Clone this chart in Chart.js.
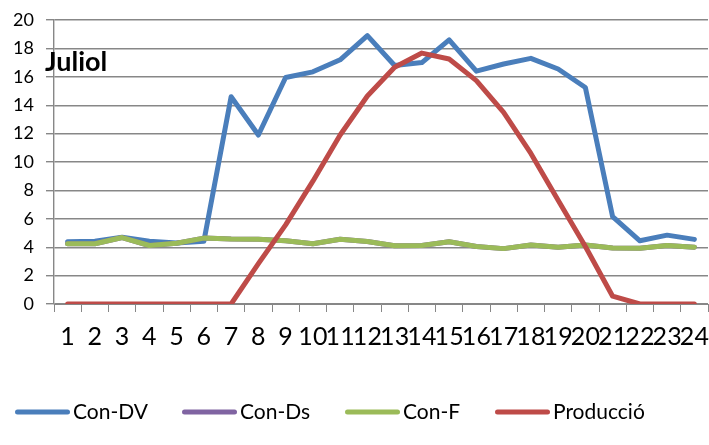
<!DOCTYPE html>
<html>
<head>
<meta charset="utf-8">
<script src="https://cdn.jsdelivr.net/npm/chart.js@4/dist/chart.umd.min.js"></script>
<style>
  html, body { margin: 0; padding: 0; background: #fff; }
  #wrap { position: relative; width: 709px; height: 445px; }
</style>
</head>
<body>
<div id="wrap"><canvas id="c" width="709" height="445"></canvas></div>
<script>
// Hours of the day
const hours = ['1','2','3','4','5','6','7','8','9','10','11','12','13','14','15','16','17','18','19','20','21','22','23','24'];

// Series values per hour
const conDV = [4.38, 4.42, 4.7, 4.42, 4.3, 4.42, 14.6, 11.9, 15.95, 16.35, 17.2, 18.9,
               16.8, 17.0, 18.6, 16.4, 16.9, 17.3, 16.55, 15.25, 6.15, 4.45, 4.85, 4.55];
const conDs = [4.24, 4.24, 4.68, 4.12, 4.28, 4.64, 4.57, 4.56, 4.46, 4.24, 4.56, 4.4,
               4.1, 4.12, 4.38, 4.05, 3.9, 4.15, 4.0, 4.15, 3.94, 3.92, 4.12, 4.0];
const conF  = [4.24, 4.24, 4.68, 4.12, 4.28, 4.64, 4.57, 4.56, 4.46, 4.24, 4.56, 4.4,
               4.1, 4.12, 4.38, 4.05, 3.9, 4.15, 4.0, 4.15, 3.94, 3.92, 4.12, 4.0];
const produccio = [0, 0, 0, 0, 0, 0, 0, 2.85, 5.57, 8.65, 11.9, 14.65,
                   16.67, 17.67, 17.25, 15.73, 13.5, 10.6, 7.3, 4.05, 0.55, 0, 0, 0];

// Y axis ticks
const yTicks = [0, 2, 4, 6, 8, 10, 12, 14, 16, 18, 20];

const seriesNames = ['Con-DV', 'Con-Ds', 'Con-F', 'Producció'];
const seriesColors = ['#4A7EBB', '#8064A2', '#9BBB59', '#BE4B48'];
const chartTitle = 'Juliol';

const FONT = 'Lato, "Open Sans", sans-serif';
const GRID = '#878787';

function line(i, data, order) {
  return {
    label: seriesNames[i],
    data: data,
    borderColor: seriesColors[i],
    backgroundColor: seriesColors[i],
    borderWidth: 5,
    pointRadius: 0,
    pointHoverRadius: 0,
    tension: 0,
    borderJoinStyle: 'round',
    borderCapStyle: 'round',
    fill: false,
    order: order
  };
}

// Legend row along the bottom and the bold chart title
const decorations = {
  id: 'decorations',
  afterDraw(chart) {
    const ctx = chart.ctx;
    ctx.save();
    // title
    ctx.font = 'bold 27px ' + FONT;
    ctx.fillStyle = '#000';
    ctx.textBaseline = 'alphabetic';
    ctx.textAlign = 'left';
    ctx.fillText(chartTitle, 45, 71);
    // legend
    const starts = [15, 182, 345, 495];
    const y = 412;
    ctx.font = '21px ' + FONT;
    ctx.textBaseline = 'middle';
    chart.data.datasets.forEach((ds, i) => {
      const x = starts[i];
      ctx.strokeStyle = ds.borderColor;
      ctx.lineWidth = 5;
      ctx.lineCap = 'round';
      ctx.beginPath();
      ctx.moveTo(x + 2.5, y);
      ctx.lineTo(x + 52.5, y);
      ctx.stroke();
      ctx.fillStyle = '#000';
      ctx.fillText(ds.label, x + 58, y);
    });
    ctx.restore();
  }
};

new Chart(document.getElementById('c'), {
  type: 'line',
  data: {
    labels: hours,
    datasets: [
      line(0, conDV, 4),
      line(1, conDs, 3),
      line(2, conF, 2),
      line(3, produccio, 1)
    ]
  },
  options: {
    responsive: false,
    animation: false,
    layout: { padding: { top: 20, right: 1, bottom: 91, left: 0 } },
    plugins: {
      legend: { display: false },
      tooltip: { enabled: false },
      title: { display: false }
    },
    scales: {
      x: {
        type: 'category',
        offset: true,
        grid: {
          offset: true,
          drawOnChartArea: false,
          drawTicks: true,
          tickLength: 8,
          color: GRID,
          lineWidth: 1
        },
        border: { display: true, color: GRID, width: 1 },
        ticks: {
          autoSkip: false,
          maxRotation: 0,
          minRotation: 0,
          padding: 10,
          color: '#000',
          font: { family: FONT, size: 25 }
        },
        afterFit(s) {
          s.height = 50;
          s.paddingLeft = 0;
          s.paddingRight = 0;
        }
      },
      y: {
        min: 0,
        max: 20,
        afterBuildTicks(s) { s.ticks = yTicks.map(v => ({ value: v })); },
        grid: {
          color: GRID,
          lineWidth: 1.4,
          drawTicks: true,
          tickLength: 8
        },
        border: { display: true, color: GRID, width: 1.4 },
        ticks: {
          padding: 12,
          color: '#000',
          font: { family: FONT, size: 18 }
        },
        afterFit(s) {
          s.width = 54;
          s.paddingTop = 0;
          s.paddingBottom = 0;
        }
      }
    }
  },
  plugins: [decorations]
});
</script>
</body>
</html>
